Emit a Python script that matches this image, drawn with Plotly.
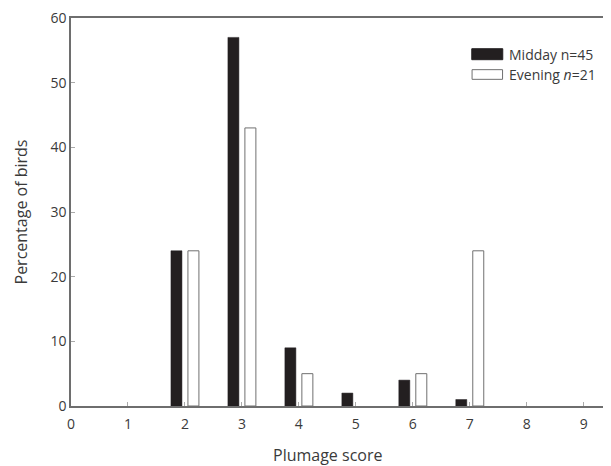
import plotly.graph_objects as go

# Data
scores = [2, 3, 4, 5, 6, 7]
midday = [24, 57, 9, 2, 4, 1]
evening = [24, 43, 5, None, 5, 24]
x_ticks = list(range(0, 10))
y_ticks = [0, 10, 20, 30, 40, 50, 60]
midday_label = "Midday n=45"
evening_label = "Evening <i>n</i>=21"

# The page body has an 8px margin, so the figure is drawn 8px smaller
OFS = 8
W, H = 611 - OFS, 466 - OFS
L, R, T, B = 70.7 - OFS, 0, 17.5 - OFS, 466 - 406.5
pw, ph = W - L - R, H - T - B

def px_x(p):  # reference pixel -> paper
    return (p - OFS - L) / pw

def px_y(p):
    return (H - B - (p - OFS)) / ph

FONT = "Open Sans"
TXT = "#3a3a3a"
AX = "#6e6e6e"
BLACK = "#231f20"

bw = 0.193
off = 0.149

fig = go.Figure()
fig.add_trace(go.Bar(x=scores, y=midday, width=bw, offset=-off - bw / 2,
                     marker=dict(color=BLACK, line=dict(color=BLACK, width=0.5)),
                     name=midday_label, showlegend=False))
fig.add_trace(go.Bar(x=scores, y=evening, width=bw, offset=off - bw / 2,
                     marker=dict(color="white", line=dict(color="#707070", width=1)),
                     name=evening_label, showlegend=False))

# Custom legend (swatch shapes + text)
fig.add_shape(type="rect", xref="paper", yref="paper",
              x0=px_x(471.7), x1=px_x(502.7), y0=px_y(59.3), y1=px_y(48.3),
              fillcolor=BLACK, line=dict(color=BLACK, width=1))
fig.add_shape(type="rect", xref="paper", yref="paper",
              x0=px_x(472), x1=px_x(502.5), y0=px_y(79), y1=px_y(69.3),
              fillcolor="white", line=dict(color="#707070", width=1))
fig.add_annotation(xref="paper", yref="paper", x=px_x(507), y=px_y(53.8),
                   text=midday_label, showarrow=False, xanchor="left", yanchor="middle",
                   font=dict(family=FONT, size=14, color=TXT))
fig.add_annotation(xref="paper", yref="paper", x=px_x(507), y=px_y(74),
                   text=evening_label, showarrow=False, xanchor="left", yanchor="middle",
                   font=dict(family=FONT, size=14, color=TXT))

# x-axis title
fig.add_annotation(xref="paper", yref="paper", x=px_x(327.5), y=px_y(456),
                   text="Plumage score", showarrow=False, xanchor="center", yanchor="middle",
                   font=dict(family=FONT, size=16, color=TXT))

fig.update_layout(
    width=W, height=H,
    margin=dict(l=L, r=R, t=T, b=B, pad=0),
    plot_bgcolor="white", paper_bgcolor="white",
    barmode="overlay",
    font=dict(family=FONT, size=14, color=TXT),
    xaxis=dict(range=[0, pw / 57.0], tickvals=x_ticks, ticktext=[str(v) for v in x_ticks],
               showgrid=False, zeroline=False, showline=True, linecolor=AX, linewidth=1.5,
               mirror=True, ticks="inside", ticklen=4, tickcolor="#aaaaaa", tickwidth=1,
               tickfont=dict(family=FONT, size=14, color=TXT), ticklabelstandoff=4,
               ticklabeloverflow="allow", automargin=False),
    yaxis=dict(range=[0, 60], tickvals=y_ticks, showgrid=False, zeroline=False,
               showline=True, linecolor=AX, linewidth=1.5,
               ticks="inside", ticklen=4, tickcolor="#aaaaaa", tickwidth=1,
               tickfont=dict(family=FONT, size=14, color=TXT), automargin=False,
               ticklabeloverflow="allow",
               title=dict(text="Percentage of birds", font=dict(family=FONT, size=16, color=TXT),
                          standoff=19)),
)

fig.write_html("out.html")
